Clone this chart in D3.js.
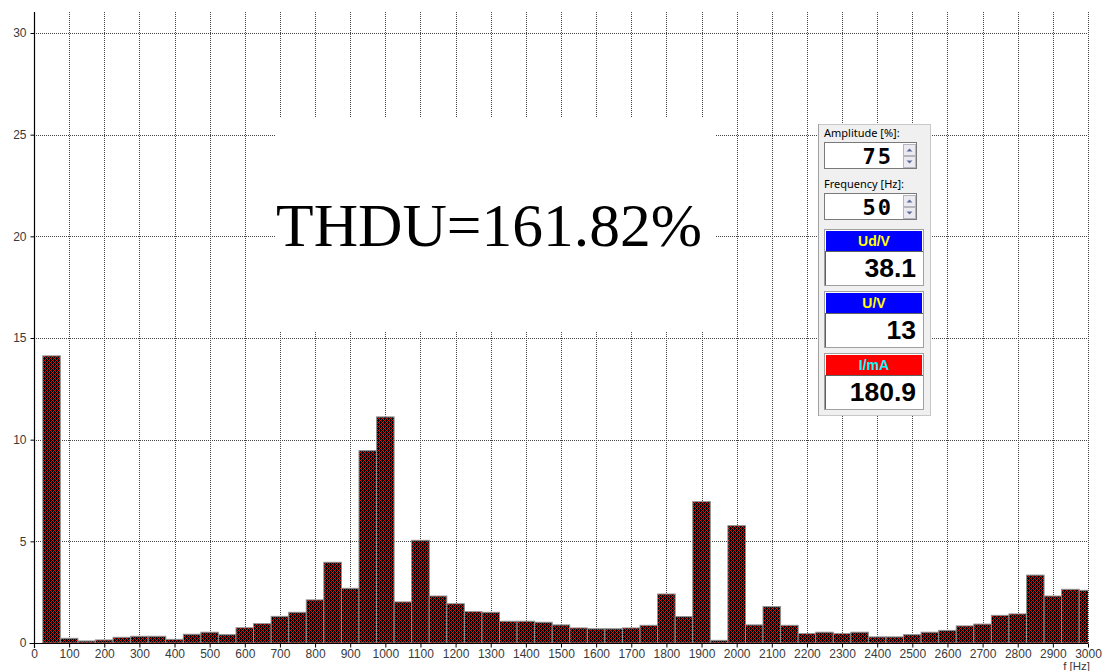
<!DOCTYPE html>
<html>
<head>
<meta charset="utf-8">
<script src="https://cdn.jsdelivr.net/npm/d3@7"></script>
<style>
  body { margin: 0; background: #fff; }
  svg { display: block; font-family: "Liberation Sans", Arial, sans-serif; }
</style>
</head>
<body>
<svg id="chart" width="1105" height="671"></svg>
<script>
// Harmonic spectrum: bin centre frequency (Hz) and amplitude (%)
const frequencies = [
  50, 100, 150, 200, 250, 300, 350, 400, 450, 500,
  550, 600, 650, 700, 750, 800, 850, 900, 950, 1000,
  1050, 1100, 1150, 1200, 1250, 1300, 1350, 1400, 1450, 1500,
  1550, 1600, 1650, 1700, 1750, 1800, 1850, 1900, 1950, 2000,
  2050, 2100, 2150, 2200, 2250, 2300, 2350, 2400, 2450, 2500,
  2550, 2600, 2650, 2700, 2750, 2800, 2850, 2900, 2950, 3000
];
const amplitudes = [
  14.12, 0.23, 0.10, 0.15, 0.28, 0.33, 0.33, 0.18, 0.43, 0.53,
  0.41, 0.75, 0.95, 1.31, 1.51, 2.12, 3.97, 2.69, 9.46, 11.12,
  2.02, 5.05, 2.31, 1.93, 1.54, 1.51, 1.07, 1.07, 1.02, 0.89,
  0.74, 0.70, 0.70, 0.74, 0.87, 2.41, 1.30, 6.95, 0.13, 5.77,
  0.89, 1.79, 0.87, 0.46, 0.53, 0.46, 0.53, 0.30, 0.30, 0.41,
  0.53, 0.62, 0.84, 0.93, 1.36, 1.43, 3.34, 2.31, 2.64, 2.59
];
const binWidthHz = 50;

const xTickValues = [0, 100, 200, 300, 400, 500, 600, 700, 800, 900, 1000,
  1100, 1200, 1300, 1400, 1500, 1600, 1700, 1800, 1900, 2000,
  2100, 2200, 2300, 2400, 2500, 2600, 2700, 2800, 2900, 3000];
const yTickValues = [0, 5, 10, 15, 20, 25, 30];
const xAxisTitle = "f [Hz]";
const thduLabel = "THDU=161.82%";

// Generator control panel
const amplitudeCaption = "Amplitude [%]:";
const amplitudeSetting = "75";
const frequencyCaption = "Frequency [Hz]:";
const frequencySetting = "50";
const meterLabels = ["Ud/V", "U/V", "I/mA"];
const meterValues = ["38.1", "13", "180.9"];

// ---- styles ----
const meterHeaderFill = ["#0000ff", "#0000ff", "#ff0000"];
const meterHeaderText = ["#ffff00", "#ffff00", "#00ffff"];

const svg = d3.select("#chart");

const plot = { left: 34, right: 1088, top: 12, bottom: 643 };
const x = d3.scaleLinear().domain([0, 3000]).range([plot.left, plot.right]);
const y = d3.scaleLinear().domain([0, 30]).range([plot.bottom, 33]);

const defs = svg.append("defs");
// pixel cross-hatch: red diagonals on black, 4px period
const hatch = defs.append("pattern")
  .attr("id", "hatch")
  .attr("patternUnits", "userSpaceOnUse")
  .attr("width", 4).attr("height", 4);
hatch.append("rect").attr("width", 4).attr("height", 4).attr("fill", "#000");
const hatchPixels = [];
for (let px = 0; px < 4; px++) {
  for (let py = 0; py < 4; py++) {
    if ((px + py) % 4 === 0 || (px - py + 4) % 4 === 0) hatchPixels.push([px, py]);
  }
}
hatch.selectAll("rect.px").data(hatchPixels).join("rect")
  .attr("class", "px")
  .attr("x", d => d[0]).attr("y", d => d[1])
  .attr("width", 1).attr("height", 1)
  .attr("shape-rendering", "crispEdges")
  .attr("fill", "#ff0000");

defs.append("clipPath").attr("id", "plotClip")
  .append("rect")
  .attr("x", plot.left).attr("y", plot.top)
  .attr("width", plot.right - plot.left).attr("height", plot.bottom - plot.top);

// grid
const grid = svg.append("g").attr("class", "grid");
grid.selectAll("line.v")
  .data(xTickValues.filter(d => d > 0))
  .join("line")
  .attr("class", "v")
  .attr("x1", d => Math.round(x(d)) + 0.5).attr("x2", d => Math.round(x(d)) + 0.5)
  .attr("y1", plot.top).attr("y2", plot.bottom)
  .attr("stroke", "#444").attr("stroke-width", 1)
  .attr("stroke-dasharray", "1,1");
grid.selectAll("line.h")
  .data(yTickValues.filter(d => d > 0))
  .join("line")
  .attr("class", "h")
  .attr("x1", plot.left).attr("x2", plot.right)
  .attr("y1", d => Math.round(y(d)) + 0.5).attr("y2", d => Math.round(y(d)) + 0.5)
  .attr("stroke", "#444").attr("stroke-width", 1)
  .attr("stroke-dasharray", "1,1");

// white backing behind the THD readout
svg.append("rect")
  .attr("x", 276).attr("y", 118).attr("width", 440).attr("height", 213)
  .attr("fill", "#fff");

svg.append("text")
  .attr("x", 489).attr("y", 246)
  .attr("text-anchor", "middle")
  .attr("font-family", "'Liberation Serif', 'Times New Roman', serif")
  .attr("font-size", 61.5)
  .attr("fill", "#000")
  .text(thduLabel);

// bars
const spectrum = frequencies.map((f, i) => ({ f, a: amplitudes[i] }));
svg.append("g").attr("clip-path", "url(#plotClip)")
  .selectAll("rect")
  .data(spectrum)
  .join("rect")
  .attr("x", d => x(d.f - binWidthHz / 2))
  .attr("width", d => x(d.f + binWidthHz / 2) - x(d.f - binWidthHz / 2))
  .attr("y", d => y(d.a))
  .attr("height", d => y(0) - y(d.a))
  .attr("fill", "url(#hatch)")
  .attr("stroke", "#909090").attr("stroke-width", 1);

// axes
const xAxis = svg.append("g")
  .attr("transform", `translate(0,${plot.bottom + 0.5})`)
  .call(d3.axisBottom(x).tickValues(xTickValues).tickFormat(d3.format("d"))
    .tickSize(4).tickSizeOuter(0).tickPadding(2));
const yAxis = svg.append("g")
  .attr("transform", `translate(${plot.left + 0.5},0)`)
  .call(d3.axisLeft(y).tickValues(yTickValues).tickFormat(d3.format("d"))
    .tickSize(4).tickSizeOuter(0).tickPadding(4));
[xAxis, yAxis].forEach(g => {
  g.select(".domain").attr("stroke", "#000").attr("stroke-width", 1.2);
  g.selectAll(".tick line").attr("stroke", "#000");
  g.selectAll(".tick text")
    .attr("font-family", "'Liberation Sans', Arial, sans-serif")
    .attr("font-size", 12).attr("fill", "#3a3a3a");
});
yAxis.select(".domain").attr("d", `M0,${plot.top}V${plot.bottom + 5}`);
xAxis.select(".domain").attr("d", `M${plot.left - 4 - 0.5},0H${plot.right}`);

svg.append("text")
  .attr("x", 1090).attr("y", 670)
  .attr("text-anchor", "end")
  .attr("font-size", 11.5).attr("fill", "#3a3a3a")
  .text(xAxisTitle);

// ---- control panel ----
const panel = svg.append("g").attr("class", "panel");
panel.append("rect")
  .attr("x", 818.5).attr("y", 124.5).attr("width", 112).attr("height", 291)
  .attr("fill", "#f0f0f0").attr("stroke", "#c8c8c8");
panel.append("line")
  .attr("x1", 818.5).attr("x2", 818.5).attr("y1", 124).attr("y2", 416)
  .attr("stroke", "#a0a0a0");

function spinBox(top, caption, value) {
  panel.append("text")
    .attr("x", 824).attr("y", top - 5)
    .attr("font-family", "'Noto Sans', 'Liberation Sans', sans-serif")
    .attr("font-size", 11).attr("fill", "#000")
    .text(caption);
  panel.append("rect")
    .attr("x", 824.5).attr("y", top + 0.5).attr("width", 92).attr("height", 26)
    .attr("fill", "#fff").attr("stroke", "#7a7a7a");
  panel.append("text")
    .attr("x", 893).attr("y", top + 22)
    .attr("text-anchor", "end")
    .attr("font-family", "'DejaVu Sans Mono', monospace")
    .attr("font-weight", "bold")
    .attr("font-size", 22).attr("letter-spacing", 2)
    .attr("fill", "#000")
    .text(value);
  [0, 1].forEach(k => {
    const by = top + 2 + k * 12;
    panel.append("rect")
      .attr("x", 903.5).attr("y", by + 0.5).attr("width", 12).attr("height", 11)
      .attr("fill", "#eaeaf0").attr("stroke", "#b5b5bd");
    const cx = 909.5, cy = by + 6;
    panel.append("path")
      .attr("d", k === 0
        ? `M${cx - 3},${cy + 1.5}L${cx + 3},${cy + 1.5}L${cx},${cy - 1.5}Z`
        : `M${cx - 3},${cy - 1.5}L${cx + 3},${cy - 1.5}L${cx},${cy + 1.5}Z`)
      .attr("fill", "#5c6c9c");
  });
}
spinBox(142, amplitudeCaption, amplitudeSetting);
spinBox(193, frequencyCaption, frequencySetting);

const meterTops = [229, 291, 353];
meterLabels.forEach((label, i) => {
  const top = meterTops[i];
  const g = panel.append("g");
  g.append("rect")
    .attr("x", 824.5).attr("y", top + 0.5).attr("width", 99).attr("height", 56)
    .attr("fill", "#fff").attr("stroke", "#a0a0a0");
  g.append("rect")
    .attr("x", 826).attr("y", top + 2).attr("width", 96).attr("height", 20)
    .attr("fill", meterHeaderFill[i]);
  g.append("line")
    .attr("x1", 825).attr("x2", 923).attr("y1", top + 22.5).attr("y2", top + 22.5)
    .attr("stroke", "#606060");
  g.append("line")
    .attr("x1", 825.5).attr("x2", 825.5).attr("y1", top + 23).attr("y2", top + 56)
    .attr("stroke", "#606060");
  g.append("text")
    .attr("x", 874).attr("y", top + 17)
    .attr("text-anchor", "middle")
    .attr("font-weight", "bold").attr("font-size", 14)
    .attr("fill", meterHeaderText[i])
    .text(label);
  g.append("text")
    .attr("x", 916).attr("y", top + 48)
    .attr("text-anchor", "end")
    .attr("font-weight", "bold").attr("font-size", 26.5)
    .attr("fill", "#000")
    .text(meterValues[i]);
});
</script>
</body>
</html>
